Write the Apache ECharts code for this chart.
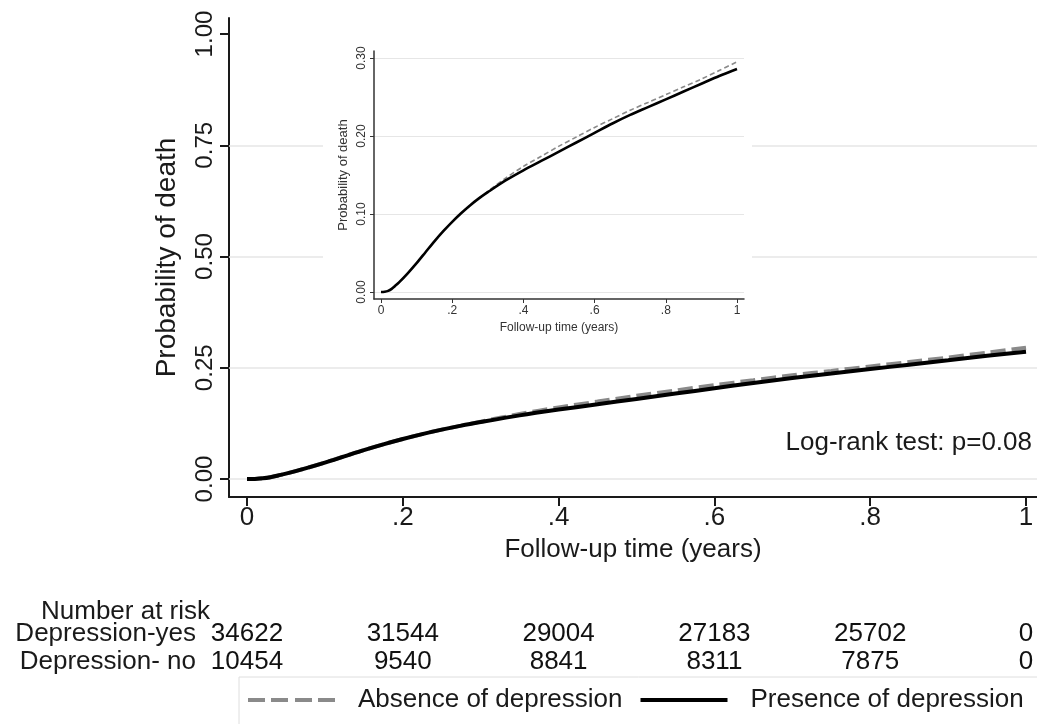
<!DOCTYPE html>
<html><head><meta charset="utf-8">
<script src="https://cdn.jsdelivr.net/npm/echarts@6/dist/echarts.min.js"></script>
<style>html,body{margin:0;padding:0;background:#fff}#c{width:1037px;height:724px}</style>
</head><body><div id="c"></div>
<script>
// ---- data ----
const followUp = [0, 0.01, 0.02, 0.03, 0.04, 0.05, 0.075, 0.10, 0.125, 0.15, 0.175, 0.20, 0.225, 0.25, 0.275, 0.30, 0.35, 0.40, 0.45, 0.50, 0.55, 0.60, 0.65, 0.70, 0.75, 0.80, 0.85, 0.90, 0.95, 1.00];
const presence = [0, 0.0003, 0.0015, 0.004, 0.008, 0.012, 0.024, 0.037, 0.051, 0.065, 0.078, 0.090, 0.101, 0.111, 0.120, 0.128, 0.143, 0.156, 0.168, 0.180, 0.192, 0.204, 0.216, 0.227, 0.237, 0.247, 0.257, 0.267, 0.277, 0.286];
const absence  = [0, 0.0003, 0.0015, 0.004, 0.008, 0.012, 0.024, 0.037, 0.051, 0.065, 0.078, 0.090, 0.101, 0.111, 0.120, 0.129, 0.146, 0.161, 0.174, 0.187, 0.199, 0.211, 0.222, 0.233, 0.243, 0.253, 0.263, 0.273, 0.284, 0.295];
const xTicks = [0, 0.2, 0.4, 0.6, 0.8, 1];
const xTickLabels = ['0', '.2', '.4', '.6', '.8', '1'];
const yTicks = [0, 0.25, 0.5, 0.75, 1];
const yGridValues = [0, 0.25, 0.5, 0.75];
const insetYTicks = [0, 0.1, 0.2, 0.3];
const riskGroups = ['Depression-yes', 'Depression- no'];
const riskTimes = [0, 0.2, 0.4, 0.6, 0.8, 1];
const riskYes = [34622, 31544, 29004, 27183, 25702, 0];
const riskNo = [10454, 9540, 8841, 8311, 7875, 0];
const legendNames = ['Absence of depression', 'Presence of depression'];
const logRankText = 'Log-rank test: p=0.08';

// ---- chart ----
const FONT = '"Liberation Sans", Arial, sans-serif';
const INK = '#1a1a1a';
const GREY = '#8a8a8a';
const xFmt = v => xTickLabels[xTicks.findIndex(t => Math.abs(t - v) < 1e-9)] ?? '';
const pairs = ys => followUp.map((x, i) => [x, ys[i]]);
const dashedIcon = 'path://M0,0H17V4H0Z M23,0H40V4H23Z M47,0H64V4H47Z M70,0H87V4H70Z';
const solidIcon = 'path://M0,0H87V4H0Z';
const riskLabel = rows => ({
  show: true, position: 'inside', fontFamily: FONT, fontSize: 26, color: '#111',
  textBorderWidth: 0, opacity: 1,
  formatter: p => String(rows[p.dataIndex])
});

const chart = echarts.init(document.getElementById('c'), null, {renderer: 'canvas'});
chart.setOption({
  backgroundColor: '#fff',
  animation: false,
  textStyle: {fontFamily: FONT, color: INK},
  title: {
    text: 'Number at risk', left: 36, top: 594,
    textStyle: {fontFamily: FONT, fontSize: 26, fontWeight: 'normal', color: INK}
  },
  legend: {
    data: [{name: legendNames[0], icon: dashedIcon}, {name: legendNames[1], icon: solidIcon}],
    left: 239, top: 677, width: 830,
    padding: [10, 30, 20, 9],
    borderColor: '#dedede', borderWidth: 1,
    itemWidth: 87, itemHeight: 4, itemGap: 18, symbolKeepAspect: false,
    textStyle: {fontFamily: FONT, fontSize: 26, color: INK, padding: [0, 0, 0, 18]}
  },
  graphic: [
    {type: 'rect', shape: {x: 323, y: 40, width: 429, height: 305}, style: {fill: '#fff'}, z: 3, silent: true},
    {type: 'text', x: 1032, y: 443, z: 3,
     style: {text: logRankText, fontFamily: FONT, fontSize: 26, fill: INK, align: 'right', verticalAlign: 'middle'}}
  ],
  grid: [
    {left: 229, right: 0, top: 18, bottom: 227},
    {left: 374, right: 293, top: 51, bottom: 425, z: 4},
    {left: 229, right: 0, top: 620, height: 56}
  ],
  xAxis: [
    {type: 'value', gridIndex: 0, min: -0.0231, max: 1.0141,
     name: 'Follow-up time (years)', nameLocation: 'middle', nameGap: 40,
     nameTextStyle: {fontFamily: FONT, fontSize: 26, color: INK},
     axisLine: {show: true, onZero: false, lineStyle: {color: INK, width: 2}},
     axisTick: {show: true, length: 9, lineStyle: {color: INK, width: 2}, customValues: xTicks},
     axisLabel: {fontFamily: FONT, fontSize: 26, color: INK, margin: 8, customValues: xTicks, formatter: xFmt},
     splitLine: {show: false}},
    {type: 'value', gridIndex: 1, min: -0.01966, max: 1.01966, z: 4,
     name: 'Follow-up time (years)', nameLocation: 'middle', nameGap: 23,
     nameTextStyle: {fontFamily: FONT, fontSize: 12, color: '#333'},
     axisLine: {show: true, onZero: false, lineStyle: {color: '#333', width: 1.5}},
     axisTick: {show: true, length: 4, lineStyle: {color: '#333', width: 1}, customValues: xTicks},
     axisLabel: {fontFamily: FONT, fontSize: 12, color: '#333', margin: 6, customValues: xTicks, formatter: xFmt},
     splitLine: {show: false}},
    {type: 'value', gridIndex: 2, min: -0.0231, max: 1.0141, show: false}
  ],
  yAxis: [
    {type: 'value', gridIndex: 0, min: -0.0404, max: 1.036,
     name: 'Probability of death', nameLocation: 'middle', nameGap: 48, nameRotate: 90,
     nameTextStyle: {fontFamily: FONT, fontSize: 28, color: INK},
     axisLine: {show: true, onZero: false, lineStyle: {color: INK, width: 2}},
     axisTick: {show: true, length: 9, lineStyle: {color: INK, width: 2}, customValues: yTicks},
     axisLabel: {fontFamily: FONT, fontSize: 24, color: INK, margin: 12, rotate: 90, customValues: yTicks,
                 formatter: v => v.toFixed(2)},
     splitLine: {show: false}},
    {type: 'value', gridIndex: 1, min: -0.00897, max: 0.30897, z: 4,
     name: 'Probability of death', nameLocation: 'middle', nameGap: 24, nameRotate: 90,
     nameTextStyle: {fontFamily: FONT, fontSize: 13, color: '#333'},
     axisLine: {show: true, onZero: false, lineStyle: {color: '#333', width: 1.5}},
     axisTick: {show: true, length: 4, lineStyle: {color: '#333', width: 1}, customValues: insetYTicks},
     axisLabel: {fontFamily: FONT, fontSize: 12, color: '#333', margin: 6, rotate: 90, customValues: insetYTicks,
                 formatter: v => v.toFixed(2)},
     splitLine: {show: false}},
    {type: 'category', gridIndex: 2, data: riskGroups, inverse: true,
     axisLine: {show: false}, axisTick: {show: false}, splitLine: {show: false},
     axisLabel: {fontFamily: FONT, fontSize: 26, color: INK, margin: 33, interval: 0, hideOverlap: false}}
  ],
  series: [
    {name: legendNames[0], type: 'line', xAxisIndex: 0, yAxisIndex: 0, data: pairs(absence),
     symbol: 'none', smooth: 0.3, z: 2,
     lineStyle: {color: GREY, width: 4, type: [15, 6]}, itemStyle: {color: GREY},
     markLine: {silent: true, symbol: 'none', label: {show: false}, z: 1, animation: false,
                lineStyle: {color: '#e6e6e6', width: 1.5, type: 'solid'},
                data: yGridValues.map(v => ({yAxis: v}))}},
    {name: legendNames[1], type: 'line', xAxisIndex: 0, yAxisIndex: 0, data: pairs(presence),
     symbol: 'none', smooth: 0.3, z: 2,
     lineStyle: {color: '#000', width: 4, type: 'solid'}, itemStyle: {color: '#000'}},
    {name: 'inset-absence', type: 'line', xAxisIndex: 1, yAxisIndex: 1, data: pairs(absence),
     symbol: 'none', smooth: 0.3, z: 5,
     lineStyle: {color: GREY, width: 1.6, type: [5, 3]},
     markLine: {silent: true, symbol: 'none', label: {show: false}, z: 4, animation: false,
                lineStyle: {color: '#e6e6e6', width: 1.2, type: 'solid'},
                data: insetYTicks.map(v => ({yAxis: v}))}},
    {name: 'inset-presence', type: 'line', xAxisIndex: 1, yAxisIndex: 1, data: pairs(presence),
     symbol: 'none', smooth: 0.3, z: 6,
     lineStyle: {color: '#000', width: 2.6, type: 'solid'}},
    {name: 'risk-yes', type: 'scatter', xAxisIndex: 2, yAxisIndex: 2,
     data: riskTimes.map(t => [t, 0]),
     symbol: 'circle', symbolSize: 0, itemStyle: {color: '#111', opacity: 1}, silent: true,
     label: riskLabel(riskYes)},
    {name: 'risk-no', type: 'scatter', xAxisIndex: 2, yAxisIndex: 2,
     data: riskTimes.map(t => [t, 1]),
     symbol: 'circle', symbolSize: 0, itemStyle: {color: '#111', opacity: 1}, silent: true,
     label: riskLabel(riskNo)}
  ]
});
</script>
</body></html>
